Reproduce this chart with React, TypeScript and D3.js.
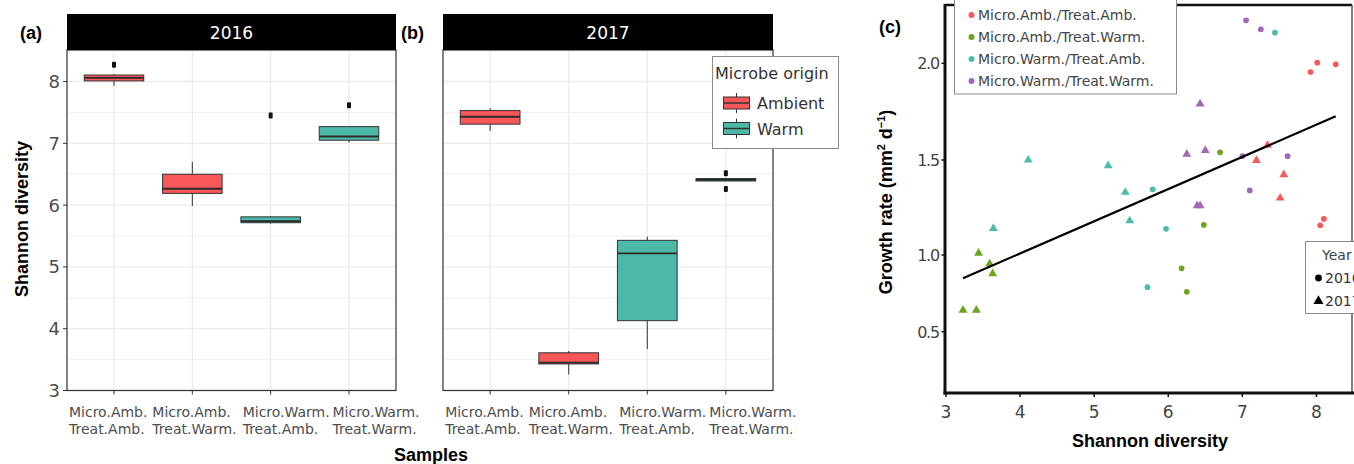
import React from "react";
import * as d3 from "d3";

// ---------- Data ----------
const years = ["2016", "2017"];
const sampleLine1 = ["Micro.Amb.", "Micro.Amb.", "Micro.Warm.", "Micro.Warm."];
const sampleLine2 = ["Treat.Amb.", "Treat.Warm.", "Treat.Amb.", "Treat.Warm."];
const sampleKeys = ["AA", "AW", "WA", "WW"];
const origin = ["Ambient", "Ambient", "Warm", "Warm"];

// boxplot stats per year (order follows sampleKeys)
const lower2016 = [7.93, 5.985, 5.7, 7.01];
const q1_2016 = [8.01, 6.19, 5.715, 7.05];
const median2016 = [8.06, 6.265, 5.74, 7.11];
const q3_2016 = [8.105, 6.5, 5.81, 7.27];
const upper2016 = [8.12, 6.7, 5.82, 7.27];
const outliers2016 = [[8.27], [], [7.45], [7.615]];

const lower2017 = [7.2, 3.26, 3.67, 6.39];
const q1_2017 = [7.31, 3.43, 4.13, 6.39];
const median2017 = [7.43, 3.45, 5.22, 6.41];
const q3_2017 = [7.53, 3.61, 5.43, 6.43];
const upper2017 = [7.57, 3.64, 5.49, 6.43];
const outliers2017 = [[], [], [], [6.515, 6.26]];

const boxYTicks = [3, 4, 5, 6, 7, 8];
const originLevels = ["Ambient", "Warm"];
const originColors = ["#F85757", "#4CB8A7"];

// scatter (panel c)
const groupLabels = [
  "Micro.Amb./Treat.Amb.",
  "Micro.Amb./Treat.Warm.",
  "Micro.Warm./Treat.Amb.",
  "Micro.Warm./Treat.Warm.",
];
const groupColors = ["#F85A5A", "#6BA51E", "#4DBBAA", "#A466B8"];

// Shannon diversity (x), growth rate (y)
const aa2016x = [8.01, 7.92, 8.26, 8.1, 8.05];
const aa2016y = [2.003, 1.955, 1.995, 1.19, 1.156];
const aa2017x = [7.34, 7.19, 7.56, 7.51];
const aa2017y = [1.576, 1.498, 1.423, 1.3];
const aw2016x = [6.7, 6.48, 6.18, 6.25];
const aw2016y = [1.54, 1.158, 0.913, 0.76];
const aw2017x = [3.44, 3.59, 3.63, 3.23, 3.41];
const aw2017y = [1.01, 0.943, 0.878, 0.64, 0.64];
const wa2016x = [7.44, 5.79, 5.97, 5.72];
const wa2016y = [2.158, 1.346, 1.138, 0.79];
const wa2017x = [4.11, 3.64, 5.19, 5.42, 5.48];
const wa2017y = [1.5, 1.14, 1.47, 1.33, 1.18];
const ww2016x = [7.05, 7.25, 7.0, 7.61, 7.1];
const ww2016y = [2.222, 2.176, 1.52, 1.52, 1.34];
const ww2017x = [6.43, 6.25, 6.5, 6.39, 6.43];
const ww2017y = [1.79, 1.53, 1.55, 1.26, 1.26];

const fitX = [3.23, 8.26];
const fitY = [0.848, 1.726];

const scatterXTicks = [3, 4, 5, 6, 7, 8];
const scatterYTicks = [0.5, 1.0, 1.5, 2.0];
const yearLabels = ["2016", "2017"];

// ---------- Helpers ----------
const TICK_FONT = "DejaVu Sans";
const TITLE_FONT = "Liberation Sans, Arial, sans-serif";
// left edge of each two-line tick label, relative to its tick
const labelOffsets = [-45, -40, -28, -16.5];

function BoxPanel({ left, right, year, lower, q1, med, q3, upper, outliers, showY }) {
  const top = 50;
  const bottom = 390.5;
  const y = d3.scaleLinear().domain([3.0, 8.51]).range([bottom, top]);
  const x = d3.scalePoint().domain(sampleKeys).range([left, right]).padding(0.6);
  const bw = x.step() * 0.76;
  const minor = [3.5, 4.5, 5.5, 6.5, 7.5, 8.5].filter((v) => y(v) >= top);
  return (
    <g>
      <rect x={left} y={top} width={right - left} height={bottom - top} fill="#fff" />
      {minor.map((v) => (
        <line key={"mn" + v} x1={left} x2={right} y1={y(v)} y2={y(v)} stroke="#f0f0f0" strokeWidth={1} />
      ))}
      {boxYTicks.map((v) => (
        <line key={"mj" + v} x1={left} x2={right} y1={y(v)} y2={y(v)} stroke="#ebebeb" strokeWidth={1.3} />
      ))}
      {sampleKeys.map((k) => (
        <line key={"vx" + k} x1={x(k)} x2={x(k)} y1={top} y2={bottom} stroke="#ebebeb" strokeWidth={1.3} />
      ))}
      {sampleKeys.map((k, i) => {
        const cx = x(k);
        const col = originColors[originLevels.indexOf(origin[i])];
        return (
          <g key={"bx" + k}>
            <line x1={cx} x2={cx} y1={y(upper[i])} y2={y(q3[i])} stroke="#333" strokeWidth={1} />
            <line x1={cx} x2={cx} y1={y(q1[i])} y2={y(lower[i])} stroke="#333" strokeWidth={1} />
            <rect
              x={cx - bw / 2}
              y={y(q3[i])}
              width={bw}
              height={Math.max(1, y(q1[i]) - y(q3[i]))}
              fill={col}
              stroke="#333"
              strokeWidth={1}
            />
            <line x1={cx - bw / 2} x2={cx + bw / 2} y1={y(med[i])} y2={y(med[i])} stroke="#2a2a2a" strokeWidth={1.8} />
            {outliers[i].map((o, j) => (
              <rect key={j} x={cx - 2} y={y(o) - 3} width={4} height={6} rx={1} fill="#111" />
            ))}
          </g>
        );
      })}
      <rect x={left} y={top} width={right - left} height={bottom - top} fill="none" stroke="#333" strokeWidth={1.2} />
      {/* strip */}
      <rect x={left} y={14} width={right - left} height={36} fill="#000" />
      <text x={(left + right) / 2} y={39} textAnchor="middle" fill="#fff" fontFamily={TICK_FONT} fontSize={17}>
        {year}
      </text>
      {/* x ticks */}
      {sampleKeys.map((k, i) => (
        <g key={"xt" + k}>
          <line x1={x(k)} x2={x(k)} y1={bottom} y2={bottom + 4} stroke="#333" strokeWidth={1} />
          <text x={x(k) + labelOffsets[i]} y={417} textAnchor="start" fill="#4d4d4d" fontFamily={TICK_FONT} fontSize={14}>
            {sampleLine1[i]}
          </text>
          <text x={x(k) + labelOffsets[i]} y={434} textAnchor="start" fill="#4d4d4d" fontFamily={TICK_FONT} fontSize={14}>
            {sampleLine2[i]}
          </text>
        </g>
      ))}
      {showY &&
        boxYTicks.map((v) => (
          <g key={"yt" + v}>
            <line x1={left - 4} x2={left} y1={y(v)} y2={y(v)} stroke="#333" strokeWidth={1} />
            <text x={left - 7} y={y(v) + 6.5} textAnchor="end" fill="#4d4d4d" fontFamily={TICK_FONT} fontSize={18}>
              {v}
            </text>
          </g>
        ))}
    </g>
  );
}

function ScatterPanel() {
  const L = 945, R = 1352, T = 5, B = 393;
  const x = d3.scaleLinear().domain([2.987, 8.48]).range([L, R]);
  const y = d3.scaleLinear().domain([0.5, 1.0, 1.5, 2.0]).range([331.7, 255, 160, 63.3]);
  const circle = d3.symbol().type(d3.symbolCircle).size(26);
  const tri = d3.symbol().type(d3.symbolTriangle).size(34);
  const series = [
    { xs: aa2016x, ys: aa2016y, g: 0, yr: 0 },
    { xs: aa2017x, ys: aa2017y, g: 0, yr: 1 },
    { xs: aw2016x, ys: aw2016y, g: 1, yr: 0 },
    { xs: aw2017x, ys: aw2017y, g: 1, yr: 1 },
    { xs: wa2016x, ys: wa2016y, g: 2, yr: 0 },
    { xs: wa2017x, ys: wa2017y, g: 2, yr: 1 },
    { xs: ww2016x, ys: ww2016y, g: 3, yr: 0 },
    { xs: ww2017x, ys: ww2017y, g: 3, yr: 1 },
  ];
  const linePath = d3
    .line<number>()
    .x((_, i) => x(fitX[i]))
    .y((d) => y(d))(fitY);
  return (
    <g>
      <rect x={L} y={T} width={R - L} height={B - T} fill="#fff" />
      {series.map((s, si) =>
        s.xs.map((xv, i) => (
          <path
            key={si + "-" + i}
            d={(s.yr === 0 ? circle : tri)() as string}
            transform={`translate(${x(xv)},${y(s.ys[i])})`}
            fill={groupColors[s.g]}
          />
        ))
      )}
      <path d={linePath as string} fill="none" stroke="#000" strokeWidth={2.2} />
      {/* borders */}
      <line x1={L} x2={R} y1={T} y2={T} stroke="#111" strokeWidth={2.5} />
      <line x1={R} x2={R} y1={T} y2={B} stroke="#555" strokeWidth={1.5} />
      <line x1={L} x2={L} y1={T - 1} y2={B + 1.5} stroke="#111" strokeWidth={3} />
      <line x1={L - 1.5} x2={1354} y1={B} y2={B} stroke="#111" strokeWidth={3} />
      {scatterXTicks.map((v) => (
        <g key={"sx" + v}>
          <line x1={x(v)} x2={x(v)} y1={B} y2={B + 4} stroke="#111" strokeWidth={1.5} />
          <text x={x(v)} y={418} textAnchor="middle" fill="#444" fontFamily={TICK_FONT} fontSize={17}>
            {v}
          </text>
        </g>
      ))}
      {scatterYTicks.map((v) => (
        <g key={"sy" + v}>
          <line x1={L - 3.5} x2={L} y1={y(v)} y2={y(v)} stroke="#111" strokeWidth={1.5} />
          <text
            x={L - 6}
            y={y(v) + 6}
            textAnchor="end"
            fill="#444"
            fontFamily={TICK_FONT}
            fontSize={16}
            letterSpacing={-1.2}
          >
            {d3.format(".1f")(v)}
          </text>
        </g>
      ))}
      {/* group legend */}
      <rect x={954.5} y={-1} width={222} height={95} fill="#fff" stroke="#8a8a8a" strokeWidth={1} />
      {groupLabels.map((lab, i) => (
        <g key={"gl" + i}>
          <circle cx={971.5} cy={15 + i * 22} r={3} fill={groupColors[i]} />
          <text x={978} y={20 + i * 22} fill="#444" fontFamily={TICK_FONT} fontSize={14}>
            {lab}
          </text>
        </g>
      ))}
      {/* year legend */}
      <rect x={1305.5} y={241.5} width={60} height={72} fill="#fff" stroke="#8a8a8a" strokeWidth={1} />
      <text x={1322} y={260} fill="#444" fontFamily={TICK_FONT} fontSize={14}>
        Year
      </text>
      {yearLabels.map((yl, i) => (
        <g key={"yl" + i}>
          <path
            d={(i === 0 ? circle.size(36) : tri.size(44))() as string}
            transform={`translate(${1318.5},${278 + i * 23})`}
            fill="#000"
          />
          <text x={1325} y={283 + i * 23} fill="#333" fontFamily={TICK_FONT} fontSize={14}>
            {yl}
          </text>
        </g>
      ))}
    </g>
  );
}

export default function App() {
  return (
    <svg
      width={1354}
      height={464}
      style={{ position: "absolute", left: 0, top: 0, background: "#fff" }}
    >
      <rect width={1354} height={464} fill="#fff" />
      <BoxPanel
        left={67}
        right={396}
        year={years[0]}
        lower={lower2016}
        q1={q1_2016}
        med={median2016}
        q3={q3_2016}
        upper={upper2016}
        outliers={outliers2016}
        showY={true}
      />
      <BoxPanel
        left={443}
        right={773}
        year={years[1]}
        lower={lower2017}
        q1={q1_2017}
        med={median2017}
        q3={q3_2017}
        upper={upper2017}
        outliers={outliers2017}
        showY={false}
      />
      {/* box legend */}
      <rect x={712.5} y={56.5} width={126} height={92} fill="#fff" stroke="#8a8a8a" strokeWidth={1} />
      <text x={715} y={79} fill="#333" fontFamily={TICK_FONT} fontSize={16}>
        Microbe origin
      </text>
      {originLevels.map((o, i) => {
        const cy = 103 + i * 25.5;
        return (
          <g key={"ol" + o}>
            <line x1={736.5} x2={736.5} y1={cy - 10} y2={cy + 10} stroke="#333" strokeWidth={1} />
            <rect x={723.5} y={cy - 6} width={26} height={12} fill={originColors[i]} stroke="#333" strokeWidth={1} />
            <line x1={723.5} x2={749.5} y1={cy} y2={cy} stroke="#333" strokeWidth={1.5} />
            <text x={757} y={cy + 6} fill="#333" fontFamily={TICK_FONT} fontSize={16}>
              {o}
            </text>
          </g>
        );
      })}

      <ScatterPanel />

      {/* titles & labels */}
      <text x={20} y={39} fontFamily={TITLE_FONT} fontWeight="bold" fontSize={18}>(a)</text>
      <text x={401} y={39} fontFamily={TITLE_FONT} fontWeight="bold" fontSize={18}>(b)</text>
      <text x={879} y={33} fontFamily={TITLE_FONT} fontWeight="bold" fontSize={18}>(c)</text>
      <text
        transform="translate(28,219) rotate(-90)"
        textAnchor="middle"
        fontFamily={TITLE_FONT}
        fontWeight="bold"
        fontSize={18}
      >
        Shannon diversity
      </text>
      <text x={431} y={461} textAnchor="middle" fontFamily={TITLE_FONT} fontWeight="bold" fontSize={18}>
        Samples
      </text>
      <text x={1150} y={447} textAnchor="middle" fontFamily={TITLE_FONT} fontWeight="bold" fontSize={18}>
        Shannon diversity
      </text>
      <text
        transform="translate(892,202) rotate(-90)"
        textAnchor="middle"
        fontFamily={TITLE_FONT}
        fontWeight="bold"
        fontSize={18}
      >
        Growth rate (mm
        <tspan fontSize={11} dy={-7}>2</tspan>
        <tspan dy={7}> d</tspan>
        <tspan fontSize={11} dy={-7}>−1</tspan>
        <tspan dy={7}>)</tspan>
      </text>
    </svg>
  );
}
